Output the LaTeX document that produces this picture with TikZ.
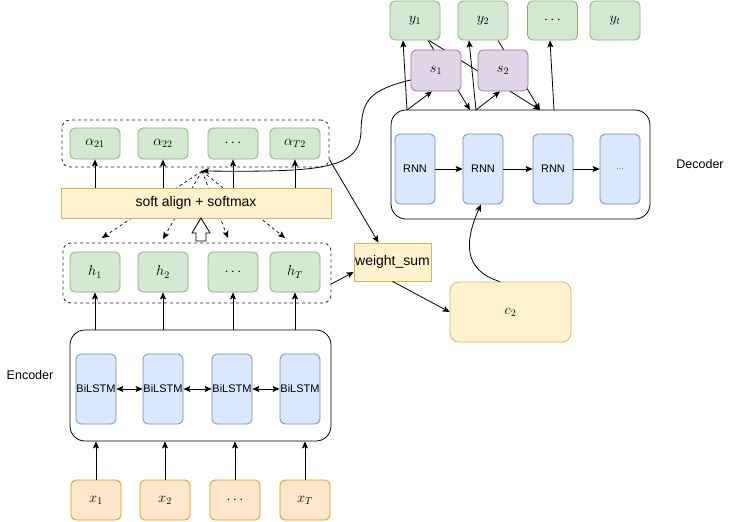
\documentclass[tikz,border=0pt]{standalone}
\usepackage{fontspec}
\newfontfamily\lsans{Liberation Sans}
\usetikzlibrary{arrows.meta,calc,backgrounds}
\definecolor{grnF}{HTML}{D5E8D4}\definecolor{grnD}{HTML}{82B366}
\definecolor{purF}{HTML}{E1D5E7}\definecolor{purD}{HTML}{9673A6}
\definecolor{bluF}{HTML}{DAE8FC}\definecolor{bluD}{HTML}{6C8EBF}
\definecolor{yelF}{HTML}{FFF2CC}\definecolor{yelD}{HTML}{D6B656}
\definecolor{oraF}{HTML}{FFE6CC}\definecolor{oraD}{HTML}{D79B00}
\begin{document}
\begin{tikzpicture}[x=1pt,y=-1pt,
  base/.style={rounded corners=5pt, line width=0.8pt, inner sep=0pt, font=\fontsize{14}{16}\selectfont},
  gbox/.style={base, draw=grnD, fill=grnF, minimum width=50pt, minimum height=40pt},
  abox/.style={base, draw=grnD, fill=grnF, minimum width=50pt, minimum height=31pt},
  pbox/.style={base, draw=purD, fill=purF, minimum width=50pt, minimum height=41pt},
  obox/.style={base, draw=oraD, fill=oraF, minimum width=50pt, minimum height=40pt},
  cell/.style={base, draw=bluD, fill=bluF, minimum width=40pt, minimum height=70pt, font=\lsans\fontsize{11}{13}\selectfont},
  big/.style={draw=black, line width=0.8pt, rounded corners=15pt, inner sep=0pt},
  dbox/.style={draw=black!85, line width=0.8pt, dash pattern=on 3pt off 3pt, rounded corners=8pt, inner sep=0pt},
  ybox/.style={draw=yelD, fill=yelF, line width=0.8pt, inner sep=0pt, font=\lsans\fontsize{14}{16}\selectfont},
  lbl/.style={font=\lsans\fontsize{12.5}{15}\selectfont},
  arr/.style={-{Stealth[length=7pt,width=6pt,inset=1.5pt]}, line width=0.8pt},
  darr/.style={{Stealth[length=7pt,width=6pt,inset=1.5pt]}-{Stealth[length=7pt,width=6pt,inset=1.5pt]}, line width=0.8pt},
  fan/.style={-{Stealth[length=7pt,width=6pt,inset=1.5pt]}, line width=0.7pt, dash pattern=on 3pt off 3pt}
]
\useasboundingbox (0,0) rectangle (731,522);

% containers
\node[big, minimum width=261pt, minimum height=111pt] (enc) at (200.5,385.5) {};
\node[big, minimum width=259pt, minimum height=109pt] (dec) at (520.5,164.5) {};
\node[dbox, minimum width=267pt, minimum height=47pt] (abx) at (195.5,143.5) {};
\node[dbox, minimum width=268pt, minimum height=60pt] (hbx) at (197,273) {};

\node[lbl] (enclbl) at (30,375) {Encoder};
\node[lbl] (declbl) at (700,164) {Decoder};

% outputs
\node[gbox, minimum height=39pt] (y1) at (415,20.5) {$y_1$};
\node[gbox, minimum height=39pt] (y2) at (483,20.5) {$y_2$};
\node[gbox, minimum height=39pt] (y3) at (552.5,20.5) {$\cdots$};
\node[gbox, minimum height=39pt] (y4) at (615,20.5) {$y_t$};

% states
\node[pbox] (s1) at (436,70.5) {$s_1$};
\node[pbox] (s2) at (503,70.5) {$s_2$};

% decoder cells
\node[cell] (r1) at (415,169) {RNN};
\node[cell] (r2) at (483,169) {RNN};
\node[cell] (r3) at (553,169) {RNN};
\node[cell, font=\lsans\fontsize{9}{11}\selectfont, text=black!55] (r4) at (620,169) {...};

% attention weights
\node[abox] (a1) at (95,143.5) {$\alpha_{21}$};
\node[abox] (a2) at (163,143.5) {$\alpha_{22}$};
\node[abox] (a3) at (233,143.5) {$\cdots$};
\node[abox] (a4) at (295,143.5) {$\alpha_{T2}$};

\node[ybox, minimum width=270pt, minimum height=30pt] (sa) at (196,203) {soft align + softmax};

% hidden
\node[gbox] (h1) at (95,272) {$h_1$};
\node[gbox] (h2) at (163,272) {$h_2$};
\node[gbox] (h3) at (233,272) {$\cdots$};
\node[gbox] (h4) at (295,272) {$h_T$};

\node[ybox, minimum width=77pt, minimum height=38pt] (ws) at (392.5,262) {weight\_sum};
\node[ybox, rounded corners=9pt, minimum width=121pt, minimum height=60pt, font=\fontsize{14}{16}\selectfont] (c2) at (510.5,312) {$c_2$};

% encoder cells
\node[cell] (b1) at (96,389) {BiLSTM};
\node[cell] (b2) at (163,389) {BiLSTM};
\node[cell] (b3) at (232,389) {BiLSTM};
\node[cell] (b4) at (300,389) {BiLSTM};

% inputs
\node[obox] (x1) at (96,500) {$x_1$};
\node[obox] (x2) at (165,500) {$x_2$};
\node[obox] (x3) at (235,500) {$\cdots$};
\node[obox] (x4) at (305,500) {$x_T$};

% hollow arrow
\draw[line width=0.8pt, fill=white] (196,241) -- (196,233) -- (192,233) -- (201,218) -- (210,233) -- (206,233) -- (206,241) -- cycle;

% coordinates
\coordinate (att) at (202,171);
\coordinate (f1) at (102,238);
\coordinate (f2) at (163,239);
\coordinate (f3) at (228,238);
\coordinate (f4) at (285,238);
\coordinate (dA) at (407,110);
\coordinate (dB) at (476,110);
\coordinate (dC) at (554,110);
\coordinate (dD) at (470,110);
\coordinate (dE) at (540,110);

% background connectors
\begin{scope}[on background layer]
  \draw[fan] (att) -- (f1);
  \draw[fan] (att) -- (f2);
  \draw[fan] (att) -- (f3);
  \draw[fan] (att) -- (f4);
  \draw[arr] ([xshift=13pt]y1.south) -- (dD);
  \draw[arr] ([xshift=14pt]y1.south) -- (dE);
  \draw[arr] ([xshift=15pt]y2.south) -- (dE);
\end{scope}

% inputs to encoder
\foreach \i in {1,...,4} {
  \draw[arr] (x\i) -- (x\i |- enc.south);
  \draw[arr] (h\i |- enc.north) -- (h\i);
  \draw[arr] (a\i |- sa.north) -- (a\i);
}
\draw[darr] (b1) -- (b2);
\draw[darr] (b2) -- (b3);
\draw[darr] (b3) -- (b4);

\draw[arr] (r1) -- (r2);
\draw[arr] (r2) -- (r3);
\draw[arr] (r3) -- (r4);

% decoder to outputs / states
\draw[arr] (dA) -- ([xshift=-12pt]y1.south);
\draw[arr] (dB) -- ([xshift=-14pt]y2.south);
\draw[arr] (dC) -- ([xshift=-2.5pt]y3.south);
\draw[arr] (dA) -- ([xshift=-4pt]s1.south);
\draw[arr] (dB) -- ([xshift=-3pt]s2.south);

% state to attention
\draw[arr] ([yshift=-9.5pt]s1.west) .. controls (370,90) and (362,100) .. (361,130)
  .. controls (361,170) and (320,172) .. (att);

% weights to weighted sum
\draw[arr] ([yshift=-16pt]abx.east) -- ([xshift=-14pt]ws.north);
\draw[arr] ([yshift=-11pt]hbx.east) -- ([yshift=-10pt]ws.west);
\draw[arr] (ws.south) -- (c2.west);
\draw[arr] ([xshift=-10.5pt]c2.north) .. controls (462,270) and (465,240) .. ([xshift=-2pt]r2.south);
\end{tikzpicture}
\end{document}
